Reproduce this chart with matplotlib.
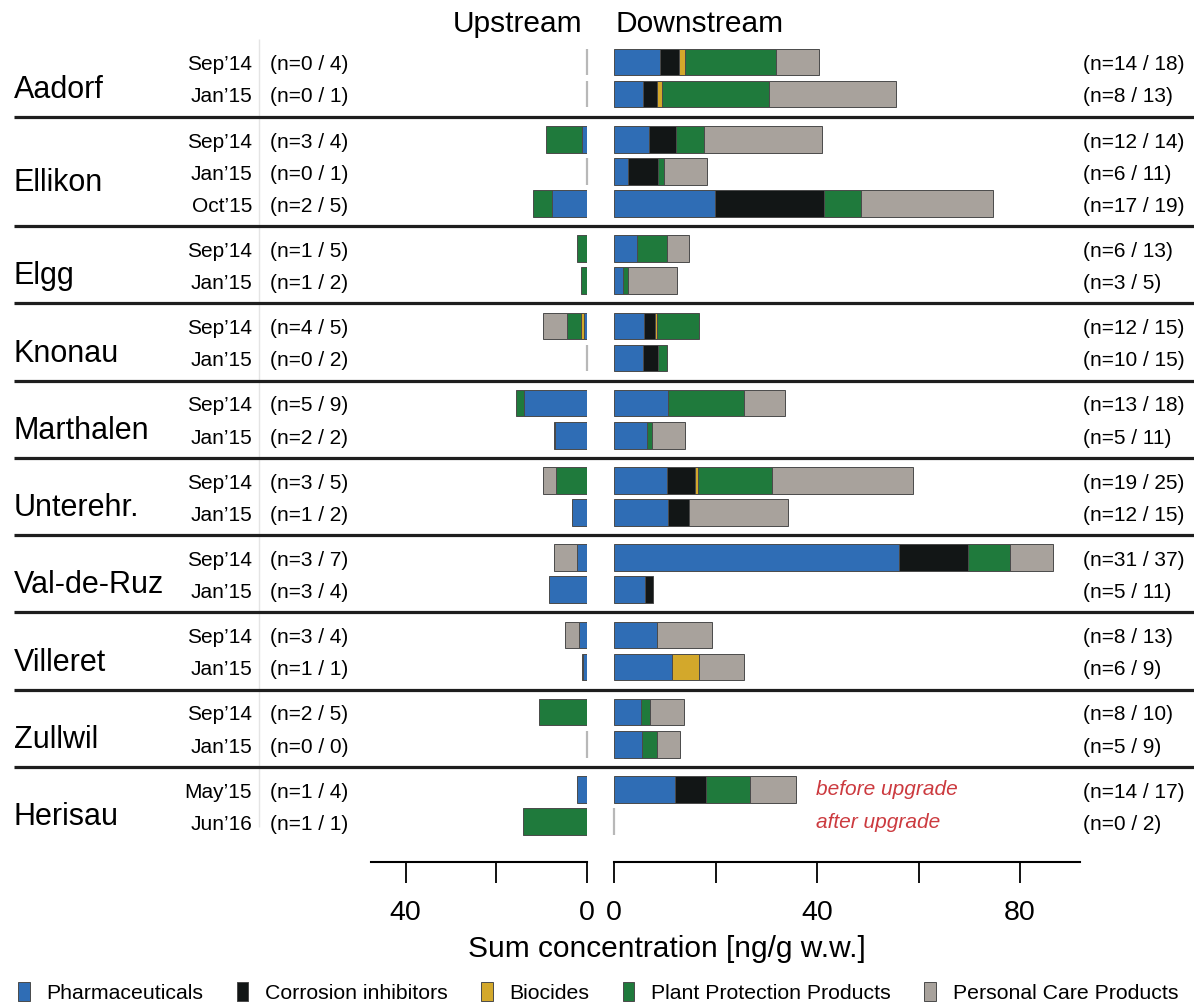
import numpy as np
import matplotlib
matplotlib.use("Agg")
import matplotlib.pyplot as plt
from matplotlib.patches import Patch

plt.rcParams['font.family'] = ['Liberation Sans', 'DejaVu Sans']

# ---- data -------------------------------------------------------------
sites = ["Aadorf", "Ellikon", "Elgg", "Knonau", "Marthalen", "Unterehr.",
         "Val-de-Ruz", "Villeret", "Zullwil", "Herisau"]
campaigns = [["Sep’14", "Jan’15"],
             ["Sep’14", "Jan’15", "Oct’15"],
             ["Sep’14", "Jan’15"],
             ["Sep’14", "Jan’15"],
             ["Sep’14", "Jan’15"],
             ["Sep’14", "Jan’15"],
             ["Sep’14", "Jan’15"],
             ["Sep’14", "Jan’15"],
             ["Sep’14", "Jan’15"],
             ["May’15", "Jun’16"]]

categories = ["Pharmaceuticals", "Corrosion inhibitors", "Biocides",
              "Plant Protection Products", "Personal Care Products"]
colors = ["#2f6db5", "#121616", "#d3a82b", "#1f7a3c", "#a8a29c"]

# upstream sums per class (ng/g w.w.), one entry per sampling row
up_pharma = [0, 0, 1.1, 0, 7.7, 0, 0, 0.6, 0, 13.8, 7.0, 0, 3.2, 2.2, 8.4, 1.8, 0.9, 0, 0, 2.1, 0]
up_corr   = [0, 0, 0, 0, 0, 0, 0, 0, 0, 0, 0.3, 0, 0, 0, 0, 0, 0.2, 0, 0, 0, 0]
up_bio    = [0, 0, 0, 0, 0, 0, 0, 0.7, 0, 0, 0, 0, 0, 0, 0, 0, 0, 0, 0, 0, 0]
up_ppp    = [0, 0, 7.8, 0, 4.1, 2.1, 1.3, 3.1, 0, 1.8, 0, 6.8, 0, 0, 0, 0, 0, 10.5, 0, 0, 14.0]
up_pcp    = [0, 0, 0, 0, 0, 0, 0, 5.2, 0, 0, 0, 2.8, 0, 5.0, 0, 2.9, 0, 0, 0, 0, 0]

# downstream sums per class
dn_pharma = [9.0, 5.7, 6.9, 2.7, 19.8, 4.4, 1.8, 5.8, 5.6, 10.5, 6.4, 10.4, 10.6, 56.1, 6.1, 8.4, 11.3, 5.2, 5.5, 11.9, 0]
dn_corr   = [3.8, 2.7, 5.2, 6.0, 21.6, 0, 0, 2.3, 3.0, 0, 0, 5.5, 4.2, 13.6, 1.6, 0, 0, 0, 0, 6.1, 0]
dn_bio    = [1.2, 1.1, 0, 0, 0, 0, 0, 0.4, 0, 0, 0, 0.6, 0, 0, 0, 0, 5.5, 0, 0, 0, 0]
dn_ppp    = [17.9, 21.1, 5.5, 1.1, 7.2, 6.0, 1.0, 8.2, 1.8, 15.1, 1.1, 14.6, 0, 8.3, 0, 0, 0, 1.8, 2.9, 8.8, 0]
dn_pcp    = [8.4, 24.9, 23.3, 8.4, 26.1, 4.3, 9.5, 0, 0, 8.0, 6.5, 27.8, 19.4, 8.5, 0, 10.9, 8.8, 6.7, 4.6, 9.1, 0]

# detected / analysed compounds
up_det = [0, 0, 3, 0, 2, 1, 1, 4, 0, 5, 2, 3, 1, 3, 3, 3, 1, 2, 0, 1, 1]
up_tot = [4, 1, 4, 1, 5, 5, 2, 5, 2, 9, 2, 5, 2, 7, 4, 4, 1, 5, 0, 4, 1]
dn_det = [14, 8, 12, 6, 17, 6, 3, 12, 10, 13, 5, 19, 12, 31, 5, 8, 6, 8, 5, 14, 0]
dn_tot = [18, 13, 14, 11, 19, 13, 5, 15, 15, 18, 11, 25, 15, 37, 11, 13, 9, 10, 9, 17, 2]

notes = ["before upgrade", "after upgrade"]

# ---- layout -----------------------------------------------------------
W, H = 1194, 1004
ROW0, STEP = 63, 32.1          # pixel position of first row, row spacing
GAP = 45.15 / STEP             # spacing between site groups (in rows)
AX_TOP, AX_BOT = 40, 862.7


def px2u(p):
    return (p - ROW0) / STEP


ypos = []
y = -1
for gi, camp in enumerate(campaigns):
    for j in range(len(camp)):
        y += GAP if (gi > 0 and j == 0) else 1
        ypos.append(y)
ypos = np.array(ypos)

fig = plt.figure(figsize=(W / 100, H / 100), dpi=100)

bg = fig.add_axes([0, 0, 1, 1], zorder=0)
bg.set_xlim(0, W)
bg.set_ylim(px2u(H), px2u(0))
bg.axis("off")

bottom = 1 - AX_BOT / H
height = (AX_BOT - AX_TOP) / H
ax_up = fig.add_axes([370.7 / W, bottom, 216 / W, height], zorder=2)
ax_dn = fig.add_axes([614.3 / W, bottom, 465.7 / W, height], zorder=2)
ax_up.set_xlim(216 / 4.53, 0)
ax_dn.set_xlim(0, 465.7 / 5.07)

up = np.array([up_pharma, up_corr, up_bio, up_ppp, up_pcp])
dn = np.array([dn_pharma, dn_corr, dn_bio, dn_ppp, dn_pcp])

bar_h = 0.83
for ax, data in [(ax_up, up), (ax_dn, dn)]:
    ax.set_ylim(px2u(AX_BOT), px2u(AX_TOP))
    ax.patch.set_visible(False)
    cum = np.zeros(data.shape[1])
    for k in range(data.shape[0]):
        m = data[k] > 0
        ax.barh(ypos[m], data[k][m], left=cum[m], height=bar_h,
                color=colors[k], edgecolor="#4a4a4a", linewidth=0.7)
        cum += data[k]
    empty = cum == 0
    ax.vlines(np.zeros(empty.sum()), ypos[empty] - bar_h / 2, ypos[empty] + bar_h / 2,
              color="#b8b8b8", lw=1.6, clip_on=False)
    for s in ["top", "left", "right"]:
        ax.spines[s].set_visible(False)
    ax.spines["bottom"].set_linewidth(1.5)
    ax.set_yticks([])
    ax.tick_params(axis="x", length=15, width=1.3, labelsize=20.5, pad=12)

ax_up.set_xticks([0, 20, 40])
ax_up.set_xticklabels(["0", "", "40"])
ax_dn.set_xticks([0, 20, 40, 60, 80])
ax_dn.set_xticklabels(["0", "", "40", "", "80"])

# titles and axis label
fig.text(582 / W, 1 - 31.5 / H, "Upstream", fontsize=21.5, ha="right", va="baseline")
fig.text(615 / W, 1 - 31.5 / H, "Downstream", fontsize=21.5, ha="left", va="baseline")
fig.text(667 / W, 1 - 957 / H, "Sum concentration [ng/g w.w.]", fontsize=21.5,
         ha="center", va="baseline")

# row labels
bg.vlines(259, px2u(AX_TOP), px2u(828), color="#e4e4e4", lw=1)
i = 0
for gi, site in enumerate(sites):
    rows = ypos[i:i + len(campaigns[gi])]
    bg.text(14, rows.mean() + 0.58, site, fontsize=22, ha="left", va="baseline")
    for j, camp in enumerate(campaigns[gi]):
        r = i + j
        yb = ypos[r] + 0.23
        bg.text(252, yb, camp, fontsize=15, ha="right", va="baseline")
        bg.text(270, yb, f"(n={up_det[r]} / {up_tot[r]})", fontsize=15, va="baseline")
        bg.text(1083, yb, f"(n={dn_det[r]} / {dn_tot[r]})", fontsize=15, va="baseline")
    if gi > 0:
        ysep = (ypos[i - 1] + ypos[i]) / 2
        bg.hlines(ysep, 14, W, color="#1e1e1e", lw=2.3)
    i += len(campaigns[gi])

# Herisau upgrade notes
for r, note in zip(ypos[-2:], notes):
    bg.text(816, r + 0.16, note, fontsize=15, style="italic", color="#cc3a3f",
            va="baseline")

handles = [Patch(facecolor=c, edgecolor="#4a4a4a", linewidth=0.7) for c in colors]
fig.legend(handles, categories, loc="center", bbox_to_anchor=(598 / W, 1 - 993 / H),
           ncol=5, frameon=False, fontsize=15.3, handlelength=0.55, handleheight=1.0,
           handletextpad=0.8, columnspacing=1.55, borderpad=0)

fig.savefig("out.png", dpi=100)
